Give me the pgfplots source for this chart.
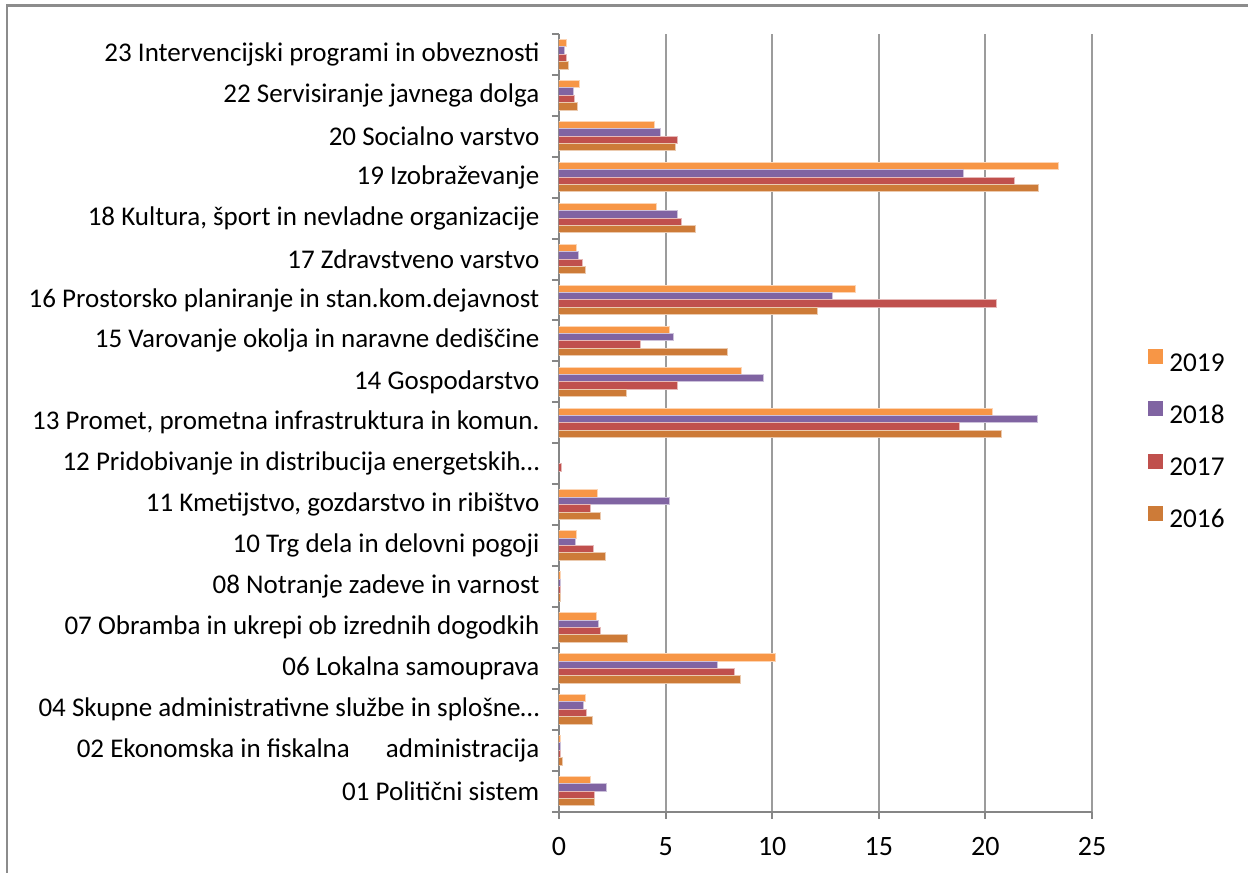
\documentclass[border=0pt]{standalone}
\usepackage{fontspec}
\setmainfont{Carlito}
\usepackage{pgfplots}
\pgfplotsset{compat=1.18}
\definecolor{cA}{HTML}{F79646}
\definecolor{cB}{HTML}{8064A2}
\definecolor{cC}{HTML}{C0504D}
\definecolor{cD}{HTML}{CD7B38}
\definecolor{axgray}{HTML}{868686}
\definecolor{grgray}{HTML}{9C9C9C}
\definecolor{frgray}{HTML}{8C8C8C}
\pgfplotsset{sqlegend/.style={legend image code/.code={\fill[##1,draw=none] (0pt,0.4pt) rectangle (7.5pt,7.9pt);}}}
\begin{document}
\begin{tikzpicture}[x=1pt,y=1pt]
\useasboundingbox (0,0) rectangle (624,436.5);
\draw[frgray, line width=1.1pt] (3.65,0) -- (3.65,433.75) -- (624,433.75);
\begin{axis}[
  at={(279.5pt,30.65pt)}, anchor=south west,
  scale only axis, width=266.5pt, height=388.9pt,
  xbar, bar width=0.18,
  xmin=0, xmax=25, ymin=-0.5, ymax=18.5,
  xtick={0,5,...,25},
  minor xtick={0,5,...,25},
  ytick={0,...,18},
  minor ytick={-0.5,0.5,...,18.5},
  major tick length=0pt, minor tick length=3.5pt,
  tick align=outside,
  xtick pos=left, ytick pos=left,
  axis x line*=bottom, axis y line*=left,
  axis line style={draw=axgray, line width=1pt},
  minor tick style={draw=axgray, line width=1pt},
  xmajorgrids, major grid style={draw=grgray, line width=1pt},
  /pgf/number format/assume math mode=true,
  xticklabel style={font=\fontsize{14}{16}\selectfont, yshift=-9.5pt},
  yticklabel style={font=\fontsize{13.5}{16}\selectfont, xshift=-6.3pt},
  yticklabels={
    01 Politični sistem,
    02 Ekonomska in fiskalna\hspace{15pt} administracija,
    04 Skupne administrativne službe in splošne…,
    06 Lokalna samouprava,
    07 Obramba in ukrepi ob izrednih dogodkih,
    08 Notranje zadeve in varnost,
    10 Trg dela in delovni pogoji,
    {11 Kmetijstvo, gozdarstvo in ribištvo},
    12 Pridobivanje in distribucija energetskih…,
    {13 Promet, prometna infrastruktura in komun.\hspace{-8pt}},
    14 Gospodarstvo,
    15 Varovanje okolja in naravne dediščine,
    16 Prostorsko planiranje in stan.kom.dejavnost,
    17 Zdravstveno varstvo,
    {18 Kultura, šport in nevladne organizacije},
    19 Izobraževanje,
    20 Socialno varstvo,
    22 Servisiranje javnega dolga,
    23 Intervencijski programi in obveznosti\hspace{3pt}
  },
  sqlegend,
  legend style={at={(axis description cs:1,0.476)}, anchor=west, xshift=28pt,
    draw=none, fill=none, inner sep=0pt, row sep=12.2pt, column sep=3pt,
    nodes={inner sep=0pt, text height=9pt, text depth=3pt},
    font=\fontsize{13.6}{16}\selectfont},
  legend cell align=left,
]
\addplot[fill=cA, draw=cA!40!white, line width=0.5pt, bar shift=0.27] coordinates {
(1.50,0) (0.08,1) (1.26,2) (10.14,3) (1.74,4) (0.08,5) (0.84,6) (1.82,7)
(20.35,9) (8.56,10) (5.18,11) (13.91,12) (0.84,13) (4.55,14) (23.41,15) (4.50,16) (0.98,17) (0.37,18)};
\addlegendentry{2019}
\addplot[fill=cB, draw=cB!40!white, line width=0.5pt, bar shift=0.09] coordinates {
(2.24,0) (0.08,1) (1.15,2) (7.45,3) (1.87,4) (0.08,5) (0.79,6) (5.16,7)
(22.44,9) (9.58,10) (5.37,11) (12.83,12) (0.92,13) (5.56,14) (18.95,15) (4.74,16) (0.67,17) (0.25,18)};
\addlegendentry{2018}
\addplot[fill=cC, draw=cC!40!white, line width=0.5pt, bar shift=-0.09] coordinates {
(1.67,0) (0.06,1) (1.28,2) (8.22,3) (1.93,4) (0.08,5) (1.63,6) (1.49,7) (0.14,8)
(18.78,9) (5.54,10) (3.80,11) (20.52,12) (1.09,13) (5.75,14) (21.35,15) (5.57,16) (0.75,17) (0.37,18)};
\addlegendentry{2017}
\addplot[fill=cD, draw=cD!40!white, line width=0.5pt, bar shift=-0.27] coordinates {
(1.68,0) (0.16,1) (1.59,2) (8.52,3) (3.19,4) (0.08,5) (2.16,6) (1.93,7)
(20.77,9) (3.15,10) (7.90,11) (12.11,12) (1.25,13) (6.40,14) (22.50,15) (5.47,16) (0.85,17) (0.43,18)};
\addlegendentry{2016}
\end{axis}
\end{tikzpicture}
\end{document}
